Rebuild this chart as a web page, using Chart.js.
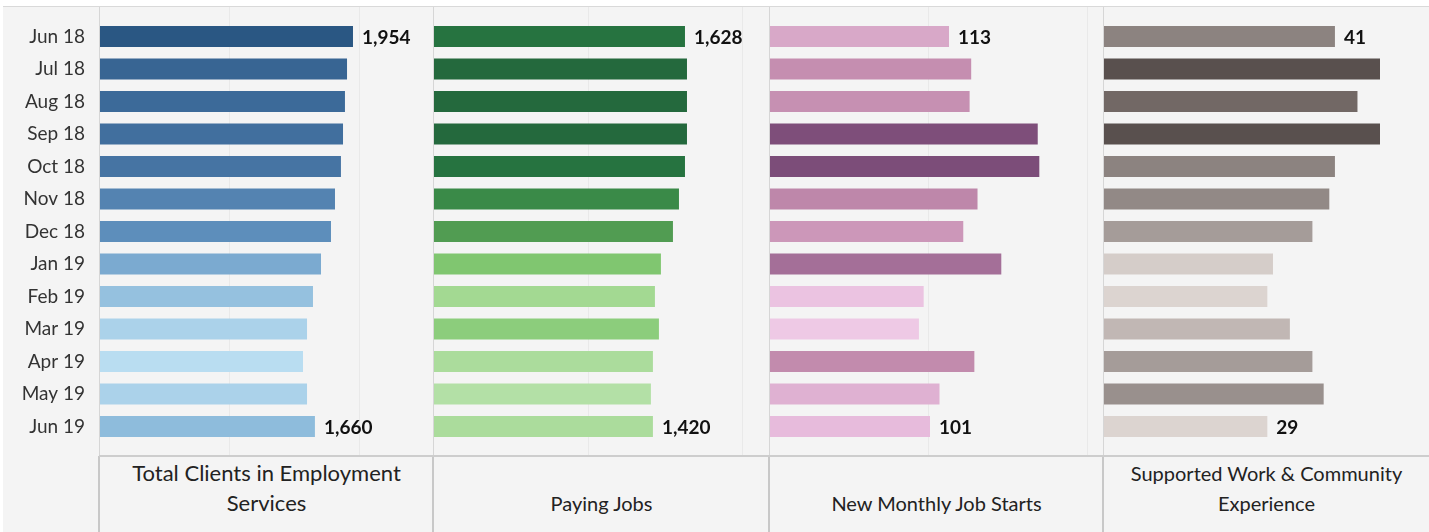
<!DOCTYPE html>
<html>
<head>
<meta charset="utf-8">
<title>Employment Services</title>
<script src="https://cdn.jsdelivr.net/npm/chart.js@4.4.1/dist/chart.umd.min.js"></script>
<style>
  body { margin: 0; background: #fff; font-family: Lato, "Open Sans", sans-serif; }
  #wrap { position: relative; width: 1429px; height: 532px; overflow: hidden; }
  #bg { position: absolute; left: 3px; top: 6px; width: 1426px; height: 526px; background: #f4f4f4; border-top: 1px solid #d9d9d9; box-sizing: border-box; }
  canvas { position: absolute; top: 7px; }
  .vline { position: absolute; background: #d6d6d6; }
  .hline { position: absolute; background: #cdcdcd; }
  .title { position: absolute; top: 457px; height: 75px; display: flex; align-items: flex-end; justify-content: center;
           text-align: center; font-size: 20px; line-height: 30px; color: #222; padding-bottom: 14px; box-sizing: border-box; }
</style>
</head>
<body>
<div id="wrap">
  <div id="bg"></div>
  <canvas id="c0" width="430" height="449" style="left:3px"></canvas>
  <canvas id="c1" width="335" height="449" style="left:434px"></canvas>
  <canvas id="c2" width="333" height="449" style="left:770px"></canvas>
  <canvas id="c3" width="325" height="449" style="left:1104px"></canvas>
</div>
<script>
const months = ['Jun 18', 'Jul 18', 'Aug 18', 'Sep 18', 'Oct 18', 'Nov 18', 'Dec 18',
                'Jan 19', 'Feb 19', 'Mar 19', 'Apr 19', 'May 19', 'Jun 19'];
const totalClients  = [1954, 1908, 1892, 1877, 1861, 1815, 1784, 1707, 1645, 1599, 1568, 1599, 1660];
const payingJobs    = [1628, 1641, 1641, 1641, 1628, 1589, 1550, 1472, 1433, 1459, 1420, 1407, 1420];
const newJobStarts  = [113, 127, 126, 169, 170, 131, 122, 146, 97, 94, 129, 107, 101];
const supportedWork = [41, 49, 45, 49, 41, 40, 37, 30, 29, 33, 37, 39, 29];
const titles = ['Total Clients in Employment<br>Services', 'Paying Jobs',
                'New Monthly Job Starts', 'Supported Work &amp; Community<br>Experience'];

// colour ramps (light -> dark), stops at t in [0,1]
const ramps = [
  [[0, '#b9ddf1'], [0.25, '#8cbadb'], [0.55, '#5e8fbc'], [0.8, '#416f9e'], [1, '#2a5783']],
  [[0, '#b3e0a6'], [0.12, '#a2d890'], [0.28, '#80c670'], [0.61, '#519c52'], [0.78, '#3a8a48'], [0.94, '#267440'], [1, '#24693d']],
  [[0, '#eec9e5'], [0.1, '#e6badb'], [0.25, '#d8a8c8'], [0.45, '#c38cae'], [0.68, '#a56f98'], [1, '#7c4d79']],
  [[0, '#dcd4d0'], [0.2, '#c1b7b4'], [0.4, '#a59c99'], [0.6, '#8c8380'], [0.8, '#726865'], [1, '#59504e']]
];

const panels = [
  { id: 'c0', values: totalClients,  max: 2572, grid: 1000, left: 99, titleSize: 22 },
  { id: 'c1', values: payingJobs,    max: 2173, grid: 1000, left: 433, titleSize: 20 },
  { id: 'c2', values: newJobStarts,  max: 210.2, grid: 100, left: 769, titleSize: 20 },
  { id: 'c3', values: supportedWork, max: 57.7, grid: null, left: 1103, titleSize: 20 }
];

function hex(c) { return [1, 3, 5].map(i => parseInt(c.slice(i, i + 2), 16)); }
function rampColor(stops, t) {
  for (let i = 1; i < stops.length; i++) {
    if (t <= stops[i][0]) {
      const a = hex(stops[i - 1][1]), b = hex(stops[i][1]);
      const f = (t - stops[i - 1][0]) / (stops[i][0] - stops[i - 1][0]);
      return 'rgb(' + a.map((v, k) => Math.round(v + (b[k] - v) * f)).join(',') + ')';
    }
  }
  return stops[stops.length - 1][1];
}

const gridPlugin = {
  id: 'fullGrid',
  beforeDatasetsDraw(chart, args, opts) {
    if (!opts.step) return;
    const x = chart.scales.x, ctx = chart.ctx;
    ctx.save();
    ctx.strokeStyle = '#e9e9e9';
    ctx.lineWidth = 1;
    for (let v = opts.step; v < x.max; v += opts.step) {
      const px = Math.round(x.getPixelForValue(v)) + 0.5;
      ctx.beginPath(); ctx.moveTo(px, 0); ctx.lineTo(px, chart.height); ctx.stroke();
    }
    ctx.restore();
  }
};

const endLabels = {
  id: 'endLabels',
  afterDatasetsDraw(chart) {
    const ctx = chart.ctx, meta = chart.getDatasetMeta(0), data = chart.data.datasets[0].data;
    ctx.save();
    ctx.font = 'bold 19px Lato';
    ctx.fillStyle = '#111';
    ctx.textBaseline = 'middle';
    [0, data.length - 1].forEach(i => {
      const bar = meta.data[i];
      ctx.fillText(data[i].toLocaleString('en-US'), bar.x + 9, bar.y + 1);
    });
    ctx.restore();
  }
};

const wrap = document.getElementById('wrap');
panels.forEach((p, n) => {
  const lo = Math.min(...p.values), hi = Math.max(...p.values);
  const colors = p.values.map(v => rampColor(ramps[n], (v - lo) / (hi - lo)));

  new Chart(document.getElementById(p.id), {
    type: 'bar',
    data: {
      labels: months,
      datasets: [{ data: p.values, backgroundColor: colors, barPercentage: 0.646, categoryPercentage: 1 }]
    },
    options: {
      indexAxis: 'y',
      responsive: false,
      animation: false,
      devicePixelRatio: 1,
      layout: { autoPadding: false, padding: { top: 13.25, bottom: 13.25, left: 0, right: 0 } },
      plugins: { legend: { display: false }, tooltip: { enabled: false }, fullGrid: { step: p.grid } },
      scales: {
        x: { display: false, min: 0, max: p.max },
        y: {
          display: n === 0,
          grid: { display: false },
          border: { display: false },
          ticks: { padding: 7, color: '#333', font: { family: 'Lato', size: 19 } },
          afterFit: s => {
            if (n === 0) s.width = 97;
            s.paddingTop = 0;
            s.paddingBottom = 0;
          }
        }
      }
    },
    plugins: [gridPlugin, endLabels]
  });

  // panel separators and titles
  const v1 = document.createElement('div');
  v1.className = 'vline';
  v1.style.cssText = `left:${p.left}px;top:7px;width:1px;height:449px;`;
  wrap.appendChild(v1);
  const v2 = document.createElement('div');
  v2.className = 'vline';
  v2.style.cssText = `left:${p.left - 1}px;top:456px;width:2px;height:76px;background:#c8c8c8;`;
  wrap.appendChild(v2);
  const t = document.createElement('div');
  t.className = 'title';
  const right = n < 3 ? panels[n + 1].left : 1429;
  t.style.left = (p.left + 1) + 'px';
  t.style.width = (right - p.left - 1) + 'px';
  t.style.fontSize = p.titleSize + 'px';
  t.innerHTML = titles[n];
  wrap.appendChild(t);
});

const h = document.createElement('div');
h.className = 'hline';
h.style.cssText = 'left:99px;top:455px;width:1330px;height:2px;';
wrap.appendChild(h);
</script>
</body>
</html>
